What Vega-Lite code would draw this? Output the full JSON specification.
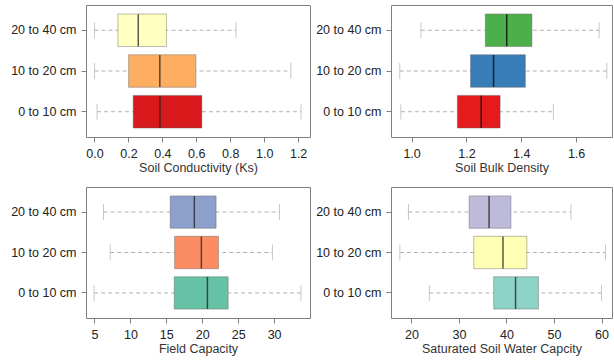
{
  "$schema": "https://vega.github.io/schema/vega-lite/v6.json",
  "padding": {"left": 10, "top": 4, "right": 0, "bottom": 0},
  "background": "white",
  "columns": 2,
  "spacing": {"row": 11, "column": 4},
  "resolve": {"scale": {"x": "independent", "y": "independent", "color": "independent"}},
  "datasets": {
    "ks": [
      {"depth": "0 to 10 cm", "min": 0.015, "q1": 0.228, "median": 0.386, "q3": 0.633, "max": 1.217},
      {"depth": "10 to 20 cm", "min": 0.0, "q1": 0.201, "median": 0.385, "q3": 0.598, "max": 1.157},
      {"depth": "20 to 40 cm", "min": 0.0, "q1": 0.138, "median": 0.258, "q3": 0.424, "max": 0.834}
    ],
    "bd": [
      {"depth": "0 to 10 cm", "min": 0.961, "q1": 1.167, "median": 1.254, "q3": 1.323, "max": 1.517},
      {"depth": "10 to 20 cm", "min": 0.957, "q1": 1.215, "median": 1.299, "q3": 1.415, "max": 1.712},
      {"depth": "20 to 40 cm", "min": 1.034, "q1": 1.269, "median": 1.347, "q3": 1.439, "max": 1.684}
    ],
    "fc": [
      {"depth": "0 to 10 cm", "min": 4.95, "q1": 16.1, "median": 20.72, "q3": 23.61, "max": 33.73},
      {"depth": "10 to 20 cm", "min": 7.19, "q1": 16.15, "median": 19.88, "q3": 22.26, "max": 29.77},
      {"depth": "20 to 40 cm", "min": 6.26, "q1": 15.54, "median": 18.9, "q3": 21.93, "max": 30.75}
    ],
    "sswc": [
      {"depth": "0 to 10 cm", "min": 23.77, "q1": 37.31, "median": 41.91, "q3": 46.73, "max": 59.99},
      {"depth": "10 to 20 cm", "min": 17.56, "q1": 33.12, "median": 39.26, "q3": 44.28, "max": 60.82},
      {"depth": "20 to 40 cm", "min": 19.37, "q1": 32.14, "median": 36.33, "q3": 40.93, "max": 53.57}
    ]
  },
  "concat": [
    {
      "width": 224, "height": 132,
      "data": {"name": "ks"},
      "encoding": {"y": {"field": "depth", "type": "nominal", "sort": ["20 to 40 cm", "10 to 20 cm", "0 to 10 cm"], "scale": {"paddingInner": 0.2, "paddingOuter": 0.22}, "axis": {"title": null}}},
      "layer": [
        {"mark": {"type": "rule", "strokeDash": [4, 3], "color": "#b0b0b0"}, "encoding": {"x": {"field": "min", "type": "quantitative", "title": "Soil Conductivity (Ks)", "scale": {"domain": [-0.05, 1.27], "nice": false, "zero": false}, "axis": {"values": [0, 0.2, 0.4, 0.6, 0.8, 1.0, 1.2], "tickCount": 20, "format": ".1f", "labelOverlap": false}}, "x2": {"field": "max"}}},
        {"mark": {"type": "tick", "color": "#b0b0b0", "size": 16, "thickness": 1}, "encoding": {"x": {"field": "min", "type": "quantitative", "title": "Soil Conductivity (Ks)", "scale": {"domain": [-0.05, 1.27], "nice": false, "zero": false}}}},
        {"mark": {"type": "tick", "color": "#b0b0b0", "size": 16, "thickness": 1}, "encoding": {"x": {"field": "max", "type": "quantitative", "title": "Soil Conductivity (Ks)", "scale": {"domain": [-0.05, 1.27], "nice": false, "zero": false}}}},
        {"mark": {"type": "bar", "stroke": "#666666", "strokeWidth": 1, "strokeOpacity": 0.45}, "encoding": {"x": {"field": "q1", "type": "quantitative", "title": "Soil Conductivity (Ks)", "scale": {"domain": [-0.05, 1.27], "nice": false, "zero": false}}, "x2": {"field": "q3"}, "color": {"field": "depth", "type": "nominal", "scale": {"domain": ["0 to 10 cm", "10 to 20 cm", "20 to 40 cm"], "range": ["#D7191C", "#FDAE61", "#FFFFBF"]}, "legend": null}}},
        {"mark": {"type": "tick", "color": "#222222", "size": 32, "thickness": 1.5, "opacity": 0.75}, "encoding": {"x": {"field": "median", "type": "quantitative", "title": "Soil Conductivity (Ks)", "scale": {"domain": [-0.05, 1.27], "nice": false, "zero": false}}}}
      ]
    },
    {
      "width": 221, "height": 132,
      "data": {"name": "bd"},
      "encoding": {"y": {"field": "depth", "type": "nominal", "sort": ["20 to 40 cm", "10 to 20 cm", "0 to 10 cm"], "scale": {"paddingInner": 0.2, "paddingOuter": 0.22}, "axis": {"title": null}}},
      "layer": [
        {"mark": {"type": "rule", "strokeDash": [4, 3], "color": "#b0b0b0"}, "encoding": {"x": {"field": "min", "type": "quantitative", "title": "Soil Bulk Density", "scale": {"domain": [0.925, 1.731], "nice": false, "zero": false}, "axis": {"values": [1.0, 1.2, 1.4, 1.6], "tickCount": 20, "format": ".1f", "labelOverlap": false}}, "x2": {"field": "max"}}},
        {"mark": {"type": "tick", "color": "#b0b0b0", "size": 16, "thickness": 1}, "encoding": {"x": {"field": "min", "type": "quantitative", "title": "Soil Bulk Density", "scale": {"domain": [0.925, 1.731], "nice": false, "zero": false}}}},
        {"mark": {"type": "tick", "color": "#b0b0b0", "size": 16, "thickness": 1}, "encoding": {"x": {"field": "max", "type": "quantitative", "title": "Soil Bulk Density", "scale": {"domain": [0.925, 1.731], "nice": false, "zero": false}}}},
        {"mark": {"type": "bar", "stroke": "#666666", "strokeWidth": 1, "strokeOpacity": 0.45}, "encoding": {"x": {"field": "q1", "type": "quantitative", "title": "Soil Bulk Density", "scale": {"domain": [0.925, 1.731], "nice": false, "zero": false}}, "x2": {"field": "q3"}, "color": {"field": "depth", "type": "nominal", "scale": {"domain": ["0 to 10 cm", "10 to 20 cm", "20 to 40 cm"], "range": ["#E41A1C", "#377EB8", "#4DAF4A"]}, "legend": null}}},
        {"mark": {"type": "tick", "color": "#111111", "size": 32, "thickness": 1.5, "opacity": 0.85}, "encoding": {"x": {"field": "median", "type": "quantitative", "title": "Soil Bulk Density", "scale": {"domain": [0.925, 1.731], "nice": false, "zero": false}}}}
      ]
    },
    {
      "width": 224, "height": 131,
      "data": {"name": "fc"},
      "encoding": {"y": {"field": "depth", "type": "nominal", "sort": ["20 to 40 cm", "10 to 20 cm", "0 to 10 cm"], "scale": {"paddingInner": 0.2, "paddingOuter": 0.22}, "axis": {"title": null}}},
      "layer": [
        {"mark": {"type": "rule", "strokeDash": [4, 3], "color": "#b0b0b0"}, "encoding": {"x": {"field": "min", "type": "quantitative", "title": "Field Capacity", "scale": {"domain": [3.82, 35.0], "nice": false, "zero": false}, "axis": {"values": [5, 10, 15, 20, 25, 30], "tickCount": 20, "labelOverlap": false}}, "x2": {"field": "max"}}},
        {"mark": {"type": "tick", "color": "#b0b0b0", "size": 16, "thickness": 1}, "encoding": {"x": {"field": "min", "type": "quantitative", "title": "Field Capacity", "scale": {"domain": [3.82, 35.0], "nice": false, "zero": false}}}},
        {"mark": {"type": "tick", "color": "#b0b0b0", "size": 16, "thickness": 1}, "encoding": {"x": {"field": "max", "type": "quantitative", "title": "Field Capacity", "scale": {"domain": [3.82, 35.0], "nice": false, "zero": false}}}},
        {"mark": {"type": "bar", "stroke": "#666666", "strokeWidth": 1, "strokeOpacity": 0.45}, "encoding": {"x": {"field": "q1", "type": "quantitative", "title": "Field Capacity", "scale": {"domain": [3.82, 35.0], "nice": false, "zero": false}}, "x2": {"field": "q3"}, "color": {"field": "depth", "type": "nominal", "scale": {"domain": ["0 to 10 cm", "10 to 20 cm", "20 to 40 cm"], "range": ["#66C2A5", "#FC8D62", "#8DA0CB"]}, "legend": null}}},
        {"mark": {"type": "tick", "color": "#222222", "size": 32, "thickness": 1.5, "opacity": 0.75}, "encoding": {"x": {"field": "median", "type": "quantitative", "title": "Field Capacity", "scale": {"domain": [3.82, 35.0], "nice": false, "zero": false}}}}
      ]
    },
    {
      "width": 221, "height": 131,
      "data": {"name": "sswc"},
      "encoding": {"y": {"field": "depth", "type": "nominal", "sort": ["20 to 40 cm", "10 to 20 cm", "0 to 10 cm"], "scale": {"paddingInner": 0.2, "paddingOuter": 0.22}, "axis": {"title": null}}},
      "layer": [
        {"mark": {"type": "rule", "strokeDash": [4, 3], "color": "#b0b0b0"}, "encoding": {"x": {"field": "min", "type": "quantitative", "title": "Saturated Soil Water Capcity", "scale": {"domain": [15.7, 62.2], "nice": false, "zero": false}, "axis": {"values": [20, 30, 40, 50, 60], "tickCount": 20, "labelOverlap": false}}, "x2": {"field": "max"}}},
        {"mark": {"type": "tick", "color": "#b0b0b0", "size": 16, "thickness": 1}, "encoding": {"x": {"field": "min", "type": "quantitative", "title": "Saturated Soil Water Capcity", "scale": {"domain": [15.7, 62.2], "nice": false, "zero": false}}}},
        {"mark": {"type": "tick", "color": "#b0b0b0", "size": 16, "thickness": 1}, "encoding": {"x": {"field": "max", "type": "quantitative", "title": "Saturated Soil Water Capcity", "scale": {"domain": [15.7, 62.2], "nice": false, "zero": false}}}},
        {"mark": {"type": "bar", "stroke": "#666666", "strokeWidth": 1, "strokeOpacity": 0.45}, "encoding": {"x": {"field": "q1", "type": "quantitative", "title": "Saturated Soil Water Capcity", "scale": {"domain": [15.7, 62.2], "nice": false, "zero": false}}, "x2": {"field": "q3"}, "color": {"field": "depth", "type": "nominal", "scale": {"domain": ["0 to 10 cm", "10 to 20 cm", "20 to 40 cm"], "range": ["#8DD3C7", "#FFFFB3", "#BEBADA"]}, "legend": null}}},
        {"mark": {"type": "tick", "color": "#222222", "size": 32, "thickness": 1.5, "opacity": 0.75}, "encoding": {"x": {"field": "median", "type": "quantitative", "title": "Saturated Soil Water Capcity", "scale": {"domain": [15.7, 62.2], "nice": false, "zero": false}}}}
      ]
    }
  ],
  "config": {
    "font": "Liberation Sans",
    "view": {"stroke": "#808080", "strokeWidth": 1},
    "axis": {"grid": false, "domain": false, "tickColor": "#808080", "tickSize": 5, "labelFont": "Liberation Sans", "labelFontSize": 12.5, "labelColor": "#222222", "titleFont": "Liberation Sans", "titleFontSize": 12.5, "titleFontWeight": "normal", "titleColor": "#333333"},
    "axisX": {"labelPadding": 5, "titlePadding": 2, "labelFlush": false, "labelOverlap": false},
    "axisY": {"labelPadding": 5}
  }
}
